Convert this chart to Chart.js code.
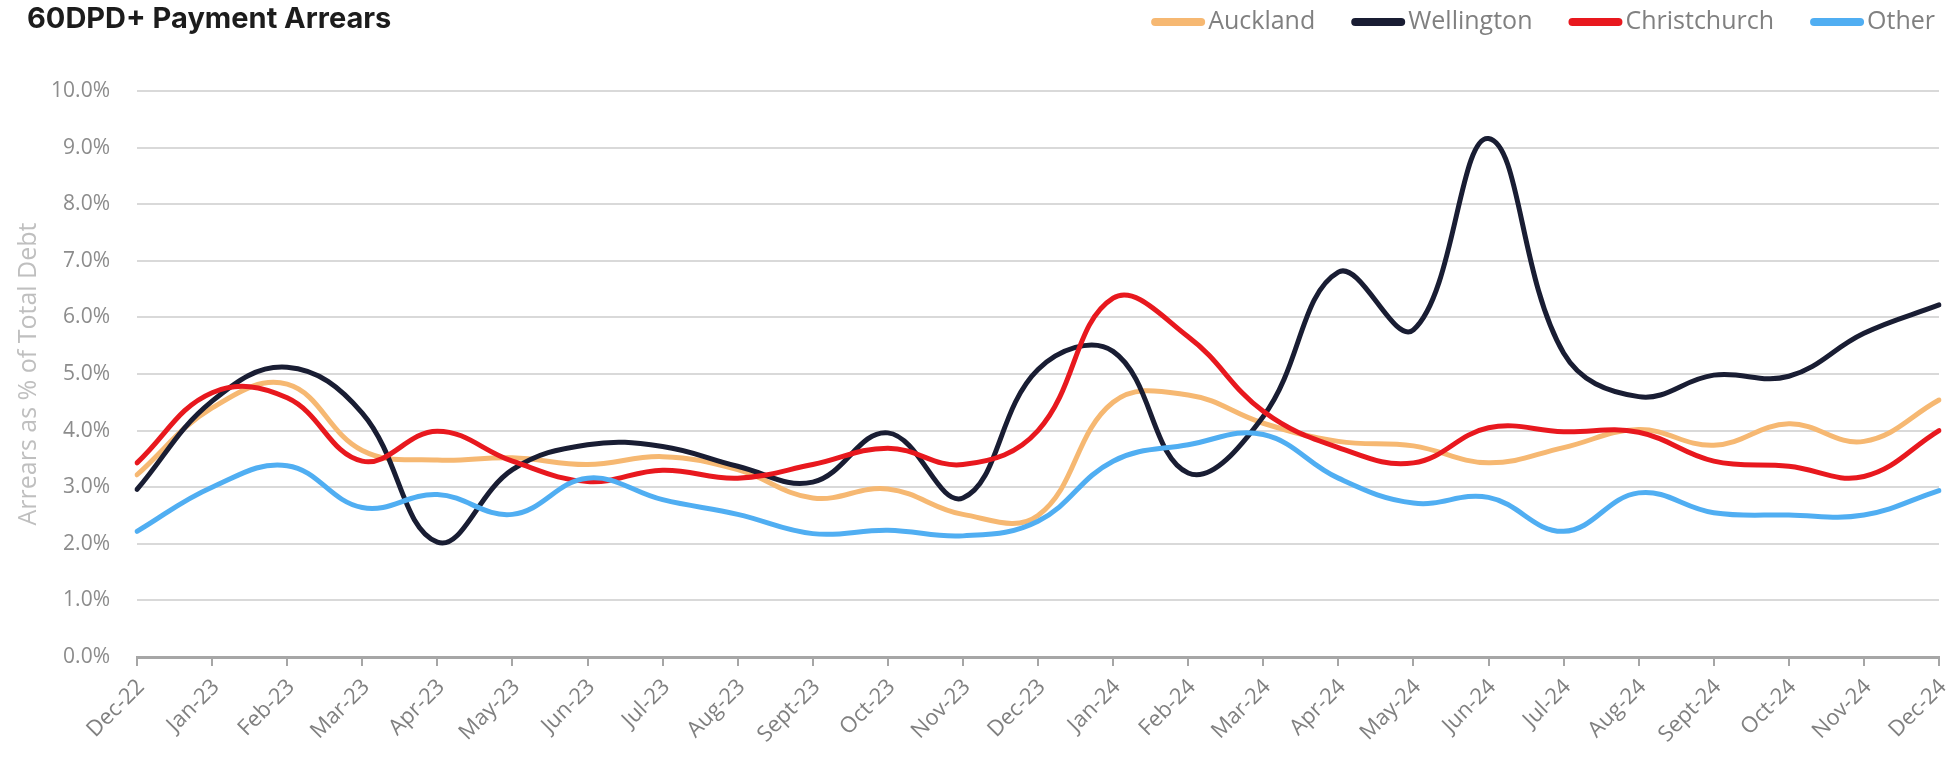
<!DOCTYPE html>
<html>
<head>
<meta charset="utf-8">
<script src="https://cdn.jsdelivr.net/npm/chart.js@4.4.1/dist/chart.umd.min.js"></script>
<style>
  html, body { margin: 0; padding: 0; background: #fff; }
  #wrap { width: 1951px; height: 759px; position: relative; }
</style>
</head>
<body>
<div id="wrap"><canvas id="arrearsChart"></canvas></div>
<script>
const chartTitle = '60DPD+ Payment Arrears';
const axisTitle = 'Arrears as % of Total Debt';

const months = ['Dec-22', 'Jan-23', 'Feb-23', 'Mar-23', 'Apr-23', 'May-23', 'Jun-23', 'Jul-23', 'Aug-23',
  'Sept-23', 'Oct-23', 'Nov-23', 'Dec-23', 'Jan-24', 'Feb-24', 'Mar-24', 'Apr-24', 'May-24', 'Jun-24',
  'Jul-24', 'Aug-24', 'Sept-24', 'Oct-24', 'Nov-24', 'Dec-24'];

const auckland = [3.22, 4.4, 4.82, 3.65, 3.48, 3.52, 3.4, 3.54, 3.31, 2.81, 2.97, 2.52, 2.5,
  4.5, 4.63, 4.13, 3.81, 3.73, 3.43, 3.7, 4.02, 3.74, 4.12, 3.81, 4.54];
const wellington = [2.96, 4.52, 5.12, 4.31, 2.03, 3.31, 3.75, 3.72, 3.37, 3.09, 3.96, 2.81, 5.08,
  5.4, 3.25, 4.25, 6.8, 5.78, 9.16, 5.37, 4.6, 4.98, 4.96, 5.72, 6.22];
const christchurch = [3.43, 4.67, 4.58, 3.46, 3.99, 3.46, 3.1, 3.3, 3.16, 3.4, 3.69, 3.4, 4.0,
  6.34, 5.66, 4.34, 3.7, 3.43, 4.05, 3.98, 3.97, 3.46, 3.37, 3.19, 4.0];
const other = [2.22, 3.0, 3.38, 2.64, 2.87, 2.52, 3.16, 2.78, 2.52, 2.18, 2.24, 2.14, 2.4,
  3.46, 3.75, 3.93, 3.16, 2.72, 2.82, 2.22, 2.9, 2.55, 2.51, 2.51, 2.94];

const yMin = 0, yMax = 10, yStep = 1;

// title top-left, legend top-right on the same row
const headerPlugin = {
  id: 'header',
  afterDraw(chart) {
    const ctx = chart.ctx;
    ctx.save();
    ctx.fillStyle = '#1c1c1c';
    ctx.font = 'bold 29px Inter, "Open Sans", sans-serif';
    ctx.textBaseline = 'alphabetic';
    ctx.textAlign = 'left';
    ctx.fillText(chartTitle, 27, 28);

    ctx.font = '25px "Open Sans", sans-serif';
    ctx.textBaseline = 'middle';
    const sets = chart.data.datasets;
    const boxW = 54, gap = 3, itemGap = 36, y = 22;
    let x = chart.width - 16;
    for (let i = sets.length - 1; i >= 0; i--) {
      const ds = sets[i];
      const w = ctx.measureText(ds.label).width;
      x -= w;
      ctx.fillStyle = '#808080';
      ctx.fillText(ds.label, x, y);
      x -= gap;
      ctx.strokeStyle = ds.borderColor;
      ctx.lineWidth = 8;
      ctx.lineCap = 'round';
      ctx.beginPath();
      ctx.moveTo(x - boxW + 4, y);
      ctx.lineTo(x - 4, y);
      ctx.stroke();
      x -= boxW + itemGap;
    }
    ctx.restore();
  }
};

function series(label, data, color, order) {
  return {
    label: label,
    data: data,
    borderColor: color,
    backgroundColor: color,
    borderWidth: 5,
    borderCapStyle: 'round',
    borderJoinStyle: 'round',
    pointRadius: 0,
    tension: 0.4,
    fill: false,
    order: order
  };
}

const ctx = document.getElementById('arrearsChart').getContext('2d');
const myChart = new Chart(ctx, {
  type: 'line',
  data: {
    labels: months,
    datasets: [
      series('Auckland', auckland, '#F6B872', 4),
      series('Wellington', wellington, '#191D33', 3),
      series('Christchurch', christchurch, '#E8181E', 2),
      series('Other', other, '#50AEF2', 1)
    ]
  },
  plugins: [headerPlugin],
  options: {
    responsive: true,
    maintainAspectRatio: false,
    animation: false,
    layout: { padding: { top: 91, right: 12, bottom: 0, left: 6 } },
    plugins: {
      legend: { display: false },
      title: { display: false },
      tooltip: { enabled: false }
    },
    scales: {
      x: {
        grid: {
          drawOnChartArea: false,
          drawTicks: true,
          tickLength: 9,
          color: '#a6a6a6',
          lineWidth: 2
        },
        border: { display: true, color: '#a6a6a6', width: 3 },
        ticks: {
          color: '#808080',
          font: { size: 22, family: '"Open Sans", sans-serif' },
          minRotation: 45,
          maxRotation: 45,
          autoSkip: false,
          padding: 8,
          labelOffset: 4
        },
        afterFit(scale) {
          scale.height = 102;
          scale.paddingRight = 0;
        }
      },
      y: {
        min: yMin,
        max: yMax,
        grid: { color: '#d9d9d9', lineWidth: 2, drawTicks: false },
        border: { display: false },
        ticks: {
          stepSize: yStep,
          color: '#8c8c8c',
          padding: 27,
          font: { size: 21, family: '"Open Sans", sans-serif' },
          callback: v => v.toFixed(1) + '%'
        },
        title: {
          display: true,
          text: axisTitle,
          color: '#bfbfbf',
          padding: { top: 8, bottom: 0 },
          font: { size: 25, family: '"Open Sans", sans-serif' }
        },
        afterFit(scale) {
          scale.width = 131;
        }
      }
    }
  }
});
</script>
</body>
</html>
